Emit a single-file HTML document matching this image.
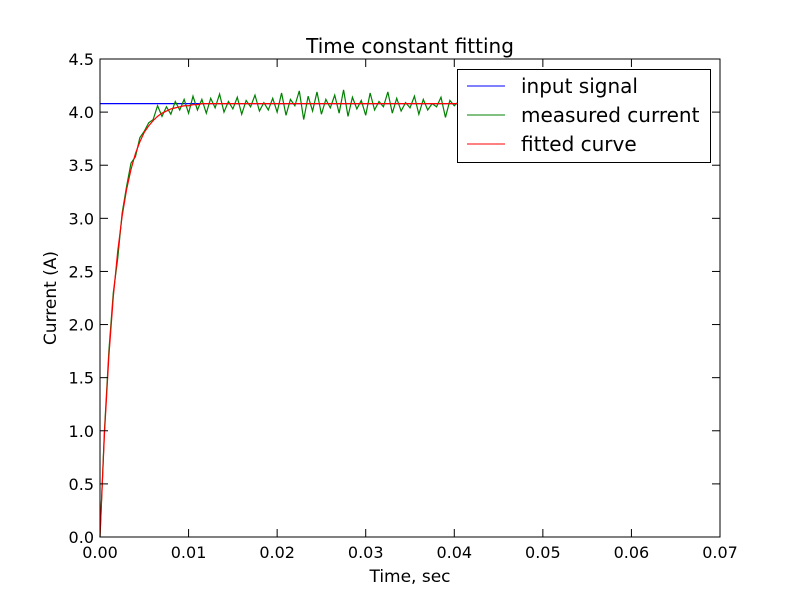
<!DOCTYPE html>
<html><head><meta charset="utf-8"><style>
html,body{margin:0;padding:0;background:#fff;}
svg{display:block;font-family:"DejaVu Sans","Liberation Sans",sans-serif;}
</style></head><body>
<svg id="chart" width="800" height="597" viewBox="0 0 800 597">
<rect x="0" y="0" width="800" height="597" fill="#fff"/>
<g id="plot"></g>
<rect x="100" y="59" width="620" height="478" fill="none" stroke="#000" stroke-width="1"/>
<g id="ticks"></g>
<text x="410" y="53" font-size="20" text-anchor="middle">Time constant fitting</text>
<text x="410" y="582" font-size="17" text-anchor="middle">Time, sec</text>
<text x="56" y="298" font-size="17" text-anchor="middle" transform="rotate(-90 56 298)">Current (A)</text>
<g>
<rect x="457.5" y="69.5" width="253" height="93" fill="#fff" stroke="#000" stroke-width="1"/>
<line x1="467" y1="86" x2="505" y2="86" stroke="#0000ff"/>
<text x="521" y="93" font-size="20">input signal</text>
<line x1="467" y1="115" x2="505" y2="115" stroke="#008000"/>
<text x="521" y="122" font-size="20">measured current</text>
<line x1="467" y1="144" x2="505" y2="144" stroke="#ff0000"/>
<text x="521" y="151" font-size="20">fitted curve</text>
</g>
</svg>
<script>
const dt = 0.0005;
const xTicks = [0,0.01,0.02,0.03,0.04,0.05,0.06,0.07];
const xTickLabels = ["0.00","0.01","0.02","0.03","0.04","0.05","0.06","0.07"];
const yTicks = [0,0.5,1,1.5,2,2.5,3,3.5,4,4.5];
const yTickLabels = ["0.0","0.5","1.0","1.5","2.0","2.5","3.0","3.5","4.0","4.5"];
const inputTimes = [0,0.05];
const inputValues = [4.08,4.08];
const measured = [0,1.0,1.75,2.3,2.62,3.05,3.30,3.52,3.58,3.76,3.82,3.90,3.93,4.06,3.96,4.05,3.98,4.10,4.02,4.12,3.99,
4.15,4.02,4.12,3.99,4.13,4.04,4.17,4.00,4.10,4.03,
4.14,3.98,4.11,4.05,4.16,4.01,4.09,4.02,4.13,4.00,
4.18,3.97,4.12,4.06,4.20,3.93,4.15,4.01,4.19,3.98,
4.12,4.04,4.16,3.99,4.21,3.96,4.14,4.03,4.11,3.97,
4.18,4.02,4.10,4.05,4.19,3.99,4.13,4.01,4.09,4.04,
4.15,3.98,4.12,4.02,4.08,4.05,4.14,3.95,4.11,4.06,
4.10,4.03,4.13,4.00,4.09,4.04,4.12,3.99,4.10,4.05,
4.11,4.02,4.09,4.06,4.12,4.01,4.10,4.04,4.08,4.07];
const fitted = [0,0.97,1.70,2.26,2.69,3.02,3.27,3.46,3.61,3.72,3.81,3.87,3.92,3.96,3.99,4.01,4.03,4.04,4.05,4.06,4.06,4.07,4.07].concat(Array(78).fill(4.08));

const X0=100,X1=720,Y0=537,Y1=59;
const xs = v => X0 + (v-0)/(0.07-0)*(X1-X0);
const ys = v => Y0 - (v-0)/(4.5-0)*(Y0-Y1);
const NS="http://www.w3.org/2000/svg";
const plot=document.getElementById('plot'), ticks=document.getElementById('ticks');
function poly(times, vals, color, name){
  const p=document.createElementNS(NS,'polyline');
  p.setAttribute('points', vals.map((v,i)=>xs(times[i]).toFixed(2)+','+ys(v).toFixed(2)).join(' '));
  p.setAttribute('fill','none'); p.setAttribute('stroke',color); p.setAttribute('stroke-width','1.2');
  
  
  plot.appendChild(p);
}
const times = measured.map((_,i)=>i*dt);
poly(inputTimes, inputValues, '#0000ff', 'input-signal-line');
poly(times, measured, '#008000', 'measured-current-line');
poly(times, fitted, '#ff0000', 'fitted-curve-line');
function ln(x1,y1,x2,y2,name){
  const l=document.createElementNS(NS,'line');
  l.setAttribute('x1',x1);l.setAttribute('y1',y1);l.setAttribute('x2',x2);l.setAttribute('y2',y2);
  l.setAttribute('stroke','#000');
  
  
  ticks.appendChild(l);
}
function tx(x,y,s,anchor,name){
  const t=document.createElementNS(NS,'text');
  t.setAttribute('x',x);t.setAttribute('y',y);t.setAttribute('font-size','16');t.setAttribute('text-anchor',anchor);
  t.textContent=s;
  
  
  ticks.appendChild(t);
}
xTicks.forEach((v,i)=>{const x=xs(v);
  ln(x,Y0,x,Y0-8,'x-tick');ln(x,Y1,x,Y1+8,'x-tick-top');
  tx(x,Y0+21,xTickLabels[i],'middle','x-tick-label');});
yTicks.forEach((v,i)=>{const y=ys(v);
  ln(X0,y,X0+8,y,'y-tick');ln(X1,y,X1-8,y,'y-tick-right');
  tx(X0-6,y+6,yTickLabels[i],'end','y-tick-label');});
</script>
</body></html>
